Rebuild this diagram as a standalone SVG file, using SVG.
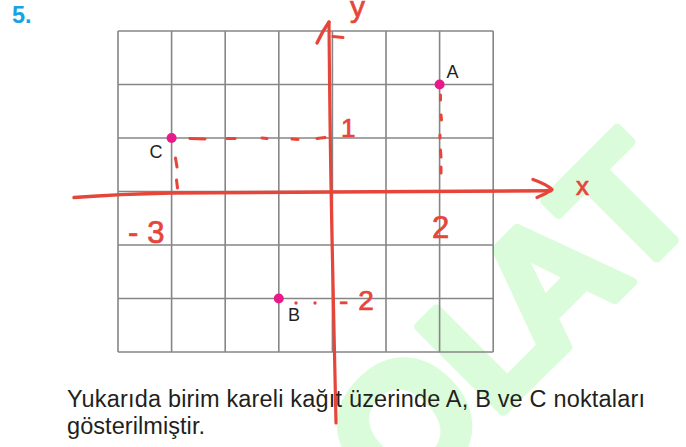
<svg xmlns="http://www.w3.org/2000/svg" width="686" height="447" viewBox="0 0 686 447">
  <defs>
    <style>
      .grid line { stroke: #868686; stroke-width: 1.6; }
      .red { fill: none; stroke: #e6453a; stroke-linecap: round; stroke-linejoin: round; }
      .hand { font-family: "Liberation Sans", Arial, sans-serif; fill: #e6453a; stroke: #e6453a; stroke-width: 0.7; }
      .pt { fill: #e8198b; }
      .lbl { font-family: "Liberation Sans", Arial, sans-serif; font-size: 18px; fill: #231f20; }
      .body { font-family: "Liberation Sans", Arial, sans-serif; font-size: 23.5px; fill: #231f20; }
      .wm { font-family: "Liberation Sans", Arial, sans-serif; font-weight: bold; font-size: 174px; font-kerning: none; fill: #dafcda; stroke: #dafcda; stroke-width: 9; stroke-linejoin: round; }
    </style>
  </defs>
  <rect x="0" y="0" width="686" height="447" fill="#ffffff"/>

  <!-- watermark -->
  <text class="wm" transform="translate(399.4,515.3) rotate(-45)" x="0" y="0">OL<tspan dx="-33">A</tspan><tspan dx="-11">T</tspan></text>

  <!-- question number -->
  <text x="12" y="23" font-family="Liberation Sans, Arial, sans-serif" font-weight="bold" font-size="23.5" fill="#17a2e6">5.</text>

  <!-- grid -->
  <g id="grid" class="grid">
    <line x1="118" y1="31" x2="118" y2="352"/>
    <line x1="171.6" y1="31" x2="171.6" y2="352"/>
    <line x1="225.2" y1="31" x2="225.2" y2="352"/>
    <line x1="278.8" y1="31" x2="278.8" y2="352"/>
    <line x1="332.4" y1="31" x2="332.4" y2="352"/>
    <line x1="386" y1="31" x2="386" y2="352"/>
    <line x1="439.6" y1="31" x2="439.6" y2="352"/>
    <line x1="493.2" y1="31" x2="493.2" y2="352"/>
    <line x1="118" y1="31" x2="493.2" y2="31"/>
    <line x1="118" y1="84.5" x2="493.2" y2="84.5"/>
    <line x1="118" y1="138" x2="493.2" y2="138"/>
    <line x1="118" y1="191.5" x2="493.2" y2="191.5"/>
    <line x1="118" y1="245" x2="493.2" y2="245"/>
    <line x1="118" y1="298.5" x2="493.2" y2="298.5"/>
    <line x1="118" y1="352" x2="493.2" y2="352"/>
  </g>

  <!-- connectors: hand-drawn axes and guide dashes -->
  <g id="connectors">
    <path class="red" stroke-width="3.4" d="M74,197.5 Q120,194 172,193 L333,192 L551,190.8"/>
    <path class="red" stroke-width="3.4" d="M533,179.5 Q546,184 552,189.5 Q546,194 537,197.5"/>
    <path class="red" stroke-width="3.2" d="M329,22 Q330,150 332.5,260 L336,423"/>
    <path class="red" stroke-width="3.4" d="M317,43 Q322,32 329,22"/>
    <path class="red" stroke-width="3" d="M333,36.5 L343,37.5"/>
    <g class="red" stroke-width="3">
      <path d="M190,138.5 L205,139"/>
      <path d="M227,138.5 L235,138.5"/>
      <path d="M262,138 L267,138.5"/>
      <path d="M292,139 L298,139.5"/>
      <path d="M317,138.5 L325,137.5"/>
      <path d="M175.5,158 L177,167"/>
      <path d="M176.5,180 L177.5,188"/>
      <path d="M440.5,95 L440.5,100"/>
      <path d="M441,115 L441.5,120"/>
      <path d="M440,135 L440,138"/>
      <path d="M440.5,150 L441,157"/>
      <path d="M441,167 L441,173"/>
    </g>
    <circle cx="296" cy="303" r="1.7" fill="#e6453a"/>
    <circle cx="315" cy="303" r="1.7" fill="#e6453a"/>
  </g>

  <!-- points -->
  <g id="pointA">
    <circle class="pt" cx="439.6" cy="84.5" r="5"/>
    <text class="lbl" x="446.5" y="78">A</text>
  </g>
  <g id="pointB">
    <circle class="pt" cx="278.8" cy="298.5" r="5"/>
    <text class="lbl" x="288" y="321">B</text>
  </g>
  <g id="pointC">
    <circle class="pt" cx="171.6" cy="138" r="5"/>
    <text class="lbl" x="149.5" y="158">C</text>
  </g>

  <!-- hand-written axis labels -->
  <g id="axis-labels">
    <text class="hand" x="350" y="17" font-size="30">y</text>
    <text class="hand" x="576" y="195" font-size="26">x</text>
    <text class="hand" x="341" y="137" font-size="26">1</text>
    <text class="hand" x="432" y="238" font-size="31">2</text>
    <text class="hand" x="128" y="243" font-size="31">-<tspan dx="9">3</tspan></text>
    <text class="hand" x="339" y="310" font-size="28">-<tspan dx="10">2</tspan></text>
  </g>

  <!-- body text -->
  <text class="body" x="67" y="407" textLength="578" lengthAdjust="spacing">Yukarıda birim kareli kağıt üzerinde A, B ve C noktaları</text>
  <text class="body" x="67" y="434" textLength="138" lengthAdjust="spacing">gösterilmiştir.</text>
</svg>
